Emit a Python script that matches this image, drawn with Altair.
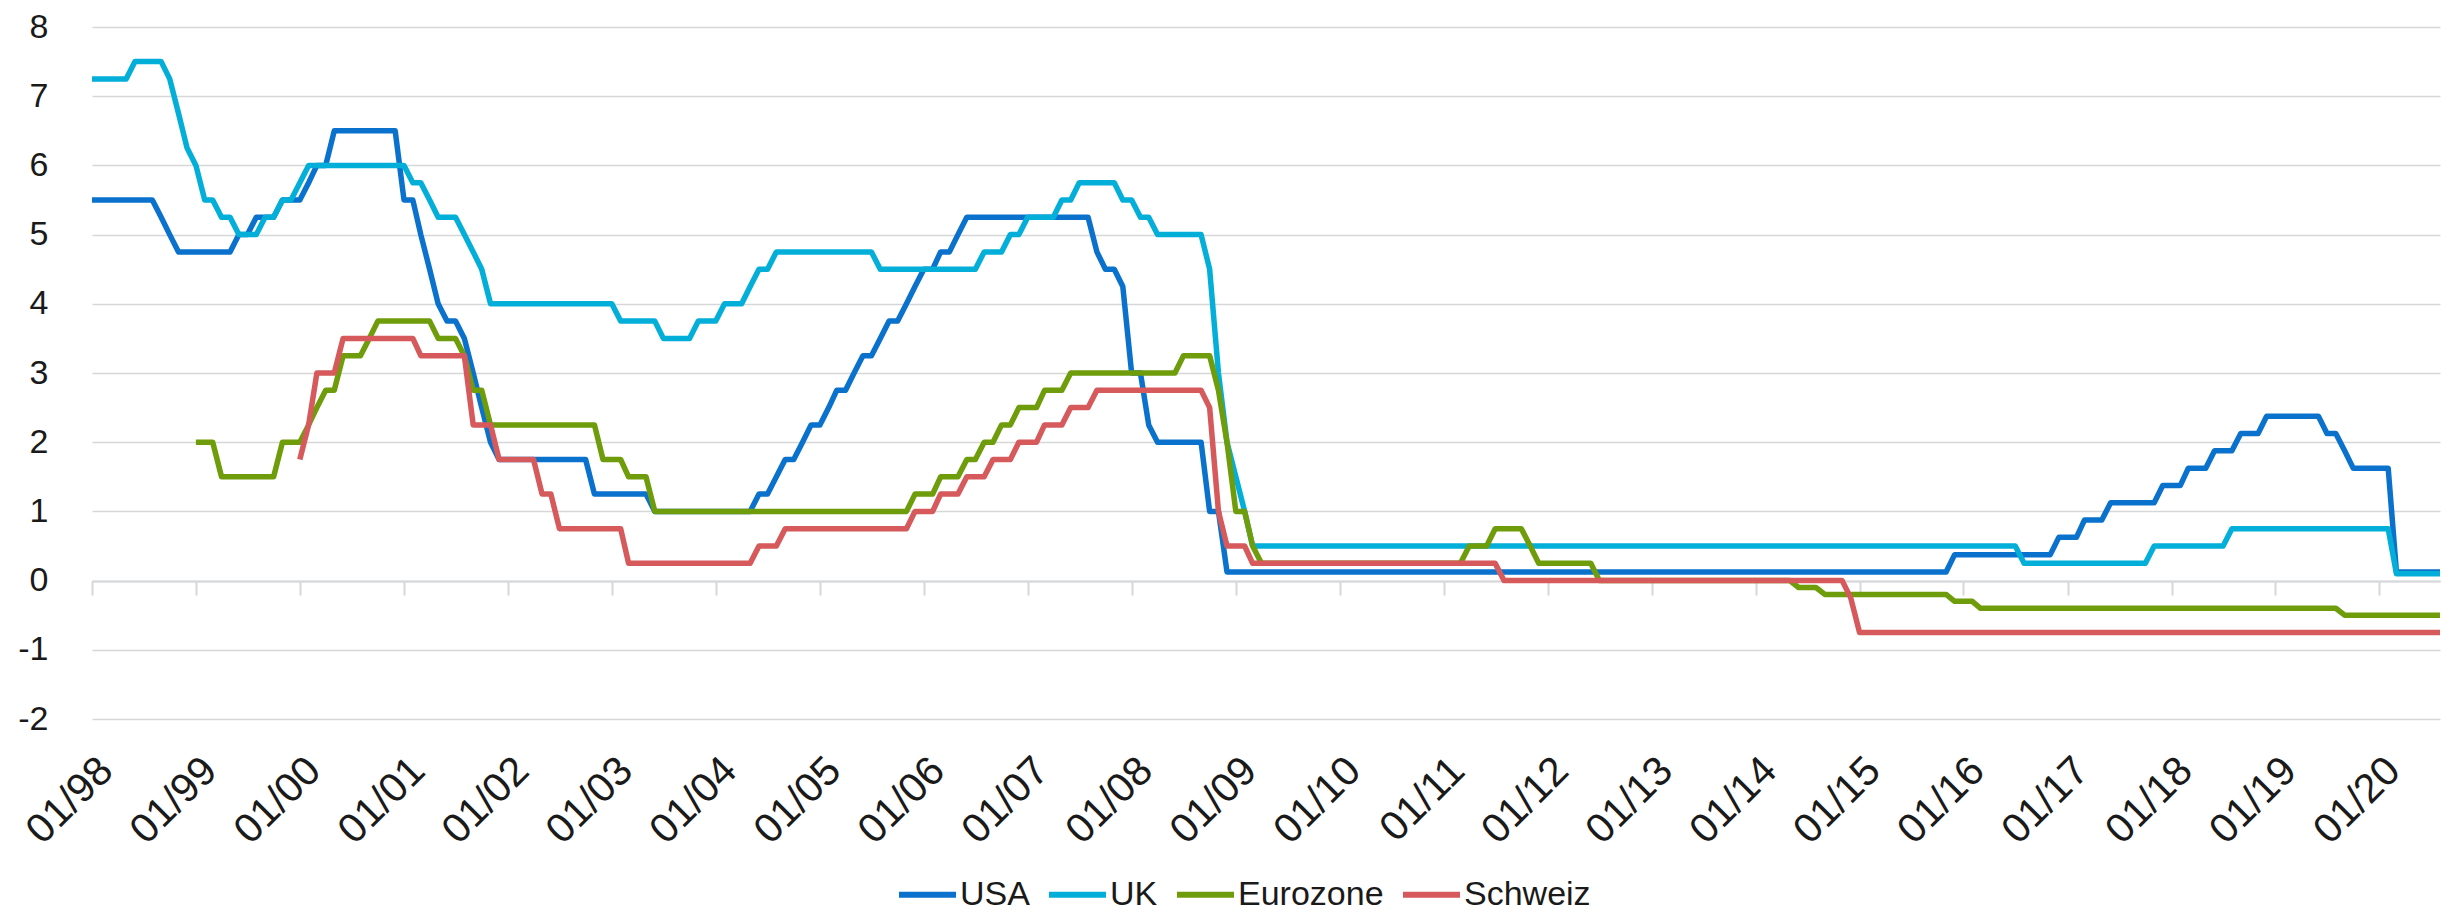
import altair as alt
import pandas as pd

# Policy rates, end-of-month values; each entry = (month from which the rate applies, rate in %)
countries = ["USA", "UK", "Eurozone", "Schweiz"]
colors = ["#0a72cc", "#03afd9", "#6e9c0a", "#d6595c"]

usa_changes = [
    ("1998-01", 5.5), ("1998-09", 5.25), ("1998-10", 5.0), ("1998-11", 4.75),
    ("1999-06", 5.0), ("1999-08", 5.25), ("1999-11", 5.5),
    ("2000-02", 5.75), ("2000-03", 6.0), ("2000-05", 6.5),
    ("2001-01", 5.5), ("2001-03", 5.0), ("2001-04", 4.5), ("2001-05", 4.0),
    ("2001-06", 3.75), ("2001-08", 3.5), ("2001-09", 3.0), ("2001-10", 2.5),
    ("2001-11", 2.0), ("2001-12", 1.75),
    ("2002-11", 1.25), ("2003-06", 1.0),
    ("2004-06", 1.25), ("2004-08", 1.5), ("2004-09", 1.75), ("2004-11", 2.0),
    ("2004-12", 2.25), ("2005-02", 2.5), ("2005-03", 2.75), ("2005-05", 3.0),
    ("2005-06", 3.25), ("2005-08", 3.5), ("2005-09", 3.75), ("2005-11", 4.0),
    ("2005-12", 4.25), ("2006-01", 4.5), ("2006-03", 4.75), ("2006-05", 5.0),
    ("2006-06", 5.25),
    ("2007-09", 4.75), ("2007-10", 4.5), ("2007-12", 4.25),
    ("2008-01", 3.0), ("2008-03", 2.25), ("2008-04", 2.0), ("2008-10", 1.0),
    ("2008-12", 0.125),
    ("2015-12", 0.375), ("2016-12", 0.625), ("2017-03", 0.875), ("2017-06", 1.125),
    ("2017-12", 1.375), ("2018-03", 1.625), ("2018-06", 1.875), ("2018-09", 2.125),
    ("2018-12", 2.375), ("2019-07", 2.125), ("2019-09", 1.875), ("2019-10", 1.625),
    ("2020-03", 0.125),
]

uk_changes = [
    ("1998-01", 7.25), ("1998-06", 7.5), ("1998-10", 7.25), ("1998-11", 6.75),
    ("1998-12", 6.25), ("1999-01", 6.0), ("1999-02", 5.5), ("1999-04", 5.25),
    ("1999-06", 5.0), ("1999-09", 5.25), ("1999-11", 5.5),
    ("2000-01", 5.75), ("2000-02", 6.0),
    ("2001-02", 5.75), ("2001-04", 5.5), ("2001-05", 5.25), ("2001-08", 5.0),
    ("2001-09", 4.75), ("2001-10", 4.5), ("2001-11", 4.0),
    ("2003-02", 3.75), ("2003-07", 3.5), ("2003-11", 3.75),
    ("2004-02", 4.0), ("2004-05", 4.25), ("2004-06", 4.5), ("2004-08", 4.75),
    ("2005-08", 4.5), ("2006-08", 4.75), ("2006-11", 5.0),
    ("2007-01", 5.25), ("2007-05", 5.5), ("2007-07", 5.75), ("2007-12", 5.5),
    ("2008-02", 5.25), ("2008-04", 5.0), ("2008-10", 4.5), ("2008-11", 3.0),
    ("2008-12", 2.0), ("2009-01", 1.5), ("2009-02", 1.0), ("2009-03", 0.5),
    ("2016-08", 0.25), ("2017-11", 0.5), ("2018-08", 0.75), ("2020-03", 0.1),
]

euro_changes = [
    ("1999-01", 2.0), ("1999-04", 1.5), ("1999-11", 2.0),
    ("2000-02", 2.25), ("2000-03", 2.5), ("2000-04", 2.75), ("2000-06", 3.25),
    ("2000-09", 3.5), ("2000-10", 3.75),
    ("2001-05", 3.5), ("2001-08", 3.25), ("2001-09", 2.75), ("2001-11", 2.25),
    ("2002-12", 1.75), ("2003-03", 1.5), ("2003-06", 1.0),
    ("2005-12", 1.25), ("2006-03", 1.5), ("2006-06", 1.75), ("2006-08", 2.0),
    ("2006-10", 2.25), ("2006-12", 2.5), ("2007-03", 2.75), ("2007-06", 3.0),
    ("2008-07", 3.25), ("2008-11", 2.75), ("2008-12", 2.0),
    ("2009-01", 1.0), ("2009-03", 0.5), ("2009-04", 0.25),
    ("2011-04", 0.5), ("2011-07", 0.75), ("2011-11", 0.5), ("2011-12", 0.25),
    ("2012-07", 0.0), ("2014-06", -0.1), ("2014-09", -0.2),
    ("2015-12", -0.3), ("2016-03", -0.4), ("2019-09", -0.5),
]

ch_changes = [
    ("2000-01", 1.75), ("2000-02", 2.25), ("2000-03", 3.0), ("2000-06", 3.5),
    ("2001-03", 3.25), ("2001-09", 2.25), ("2001-12", 1.75),
    ("2002-05", 1.25), ("2002-07", 0.75), ("2003-03", 0.25),
    ("2004-06", 0.5), ("2004-09", 0.75),
    ("2005-12", 1.0), ("2006-03", 1.25), ("2006-06", 1.5), ("2006-09", 1.75),
    ("2006-12", 2.0), ("2007-03", 2.25), ("2007-06", 2.5), ("2007-09", 2.75),
    ("2008-10", 2.5), ("2008-11", 1.0), ("2008-12", 0.5), ("2009-03", 0.25),
    ("2011-08", 0.0), ("2014-12", -0.25), ("2015-01", -0.75),
]

last_month = "2020-08"
tick_years = list(range(1998, 2021))
y_ticks = list(range(-2, 9))


def monthly(changes, name):
    rates = dict(changes)
    rows, cur = [], None
    for p in pd.period_range(changes[0][0], last_month, freq="M"):
        key = p.strftime("%Y-%m")
        if key in rates:
            cur = rates[key]
        rows.append({"date": key + "-01T00:00:00", "rate": cur, "country": name})
    return rows


rows = []
for name, ch in zip(countries, [usa_changes, uk_changes, euro_changes, ch_changes]):
    rows += monthly(ch, name)
df = pd.DataFrame(rows)

FONT = "Liberation Sans"
TXT = "#1a1a1a"
GRID = "#d5d7d9"

x_scale = alt.Scale(domain=[alt.DateTime(year=1998, month=1, date=1),
                            alt.DateTime(year=2020, month=8, date=1)])
tick_values = [alt.DateTime(year=y, month=1, date=1) for y in tick_years]

lines = alt.Chart(df).mark_line(strokeWidth=5.5, strokeJoin="round").encode(
    x=alt.X("date:T", scale=x_scale, title=None,
            axis=alt.Axis(orient="bottom", values=tick_values, format="%m/%y",
                          labelAngle=-45, labelFontSize=41, labelFont=FONT,
                          labelColor=TXT, labelPadding=31, domain=False,
                          ticks=False, grid=False)),
    y=alt.Y("rate:Q", scale=alt.Scale(domain=[-2, 8], nice=False, zero=False),
            title=None,
            axis=alt.Axis(values=y_ticks, grid=True, gridColor=GRID, gridWidth=1.6,
                          domain=False, ticks=False, labelFontSize=34,
                          labelFont=FONT, labelColor=TXT, labelPadding=44,
                          labelExpr="'' + datum.value")),
    color=alt.Color("country:N", scale=alt.Scale(domain=countries, range=colors),
                    legend=alt.Legend(title=None, orient="none", legendX=804,
                                      legendY=836, direction="horizontal",
                                      symbolType="stroke", symbolSize=3249,
                                      symbolStrokeWidth=6, labelFontSize=34,
                                      labelFont=FONT, labelColor=TXT,
                                      labelOffset=1, columnPadding=7,
                                      padding=0)),
)

zero_axis = alt.Chart(df).mark_rule(opacity=0).encode(
    x=alt.X("date:T", scale=x_scale, title=None,
            axis=alt.Axis(orient="bottom", values=tick_values, labels=False,
                          ticks=True, tickSize=14, tickWidth=2, tickColor=GRID,
                          domain=True, domainColor=GRID, domainWidth=2.2,
                          grid=False, offset=-138)),
)

chart = alt.layer(lines, zero_axis).resolve_axis(x="independent").properties(
    width=2348, height=692,
    autosize=alt.AutoSizeParams(type="none"),
    padding={"left": 84, "top": 19, "right": 2, "bottom": 193},
).configure_view(stroke=None)

chart.save("out.html", embed_options={"renderer": "svg", "actions": False})
